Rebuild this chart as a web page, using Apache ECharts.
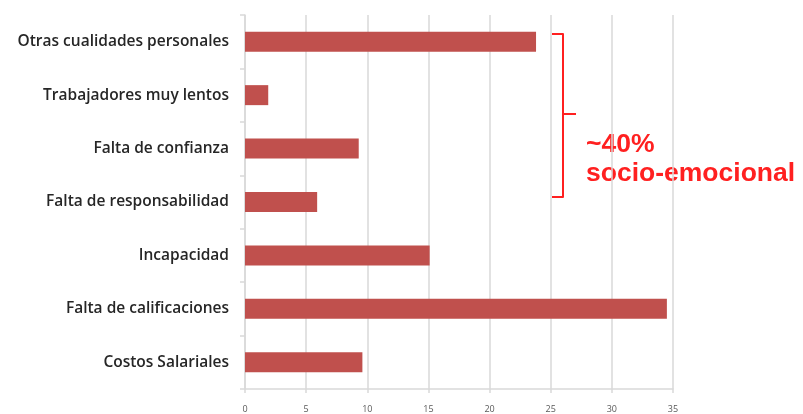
<!DOCTYPE html>
<html>
<head>
<meta charset="utf-8">
<script src="https://cdn.jsdelivr.net/npm/echarts@6/dist/echarts.min.js"></script>
<style>
  html, body { margin: 0; padding: 0; background: #ffffff; }
  #chart { width: 803px; height: 414px; }
</style>
</head>
<body>
<div id="chart"></div>
<script>
// Reasons cited for hiring difficulties (% of responses), top to bottom
const categories = [
  'Otras cualidades personales',
  'Trabajadores muy lentos',
  'Falta de confianza',
  'Falta de responsabilidad',
  'Incapacidad',
  'Falta de calificaciones',
  'Costos Salariales'
];
const values = [23.8, 1.9, 9.3, 5.9, 15.1, 34.5, 9.6];
const xTicks = [0, 5, 10, 15, 20, 25, 30, 35];
const bracketNote = ['~40%', 'socio-emocional'];

const chart = echarts.init(document.getElementById('chart'), null, { renderer: 'canvas' });

const gridColor = '#d9d9d9';
const noteRed = '#ff2020';

chart.setOption({
  animation: false,
  backgroundColor: '#ffffff',
  grid: { left: 245, right: 130, top: 15, bottom: 25, containLabel: false },
  xAxis: {
    type: 'value',
    min: xTicks[0],
    max: xTicks[xTicks.length - 1],
    interval: xTicks[1] - xTicks[0],
    axisLine: { show: true, lineStyle: { color: gridColor, width: 1.5 } },
    axisTick: { show: true, length: 4, lineStyle: { color: gridColor, width: 1.5 } },
    axisLabel: { color: '#595959', fontSize: 9, margin: 16, fontFamily: 'Open Sans' },
    splitLine: { show: true, lineStyle: { color: gridColor, width: 1.5 } }
  },
  yAxis: {
    type: 'category',
    data: categories,
    inverse: true,
    axisLine: { show: true, lineStyle: { color: gridColor, width: 1.5 } },
    axisTick: { show: true, length: 5, alignWithLabel: false, lineStyle: { color: gridColor, width: 1.5 } },
    axisLabel: {
      color: '#262626',
      fontSize: 15.5,
      fontWeight: 600,
      fontFamily: 'Open Sans',
      margin: 16
    }
  },
  series: [{
    type: 'bar',
    data: values,
    barWidth: 20,
    itemStyle: { color: '#c0504d' }
  }],
  graphic: [
    {
      type: 'polyline',
      shape: { points: [[552, 34], [563, 34], [563, 197], [552, 197]] },
      style: { stroke: noteRed, lineWidth: 2, fill: null, lineJoin: 'round' }
    },
    {
      type: 'line',
      shape: { x1: 563, y1: 114, x2: 576, y2: 114 },
      style: { stroke: noteRed, lineWidth: 2 }
    },
    {
      type: 'text',
      x: 586,
      y: 158,
      style: {
        text: bracketNote[0],
        fill: noteRed,
        font: 'bold 26.5px "Liberation Sans", Arial, sans-serif',
        textVerticalAlign: 'bottom'
      }
    },
    {
      type: 'text',
      x: 586,
      y: 187,
      style: {
        text: bracketNote[1],
        fill: noteRed,
        font: 'bold 26.5px "Liberation Sans", Arial, sans-serif',
        textVerticalAlign: 'bottom'
      }
    }
  ]
});
</script>
</body>
</html>
